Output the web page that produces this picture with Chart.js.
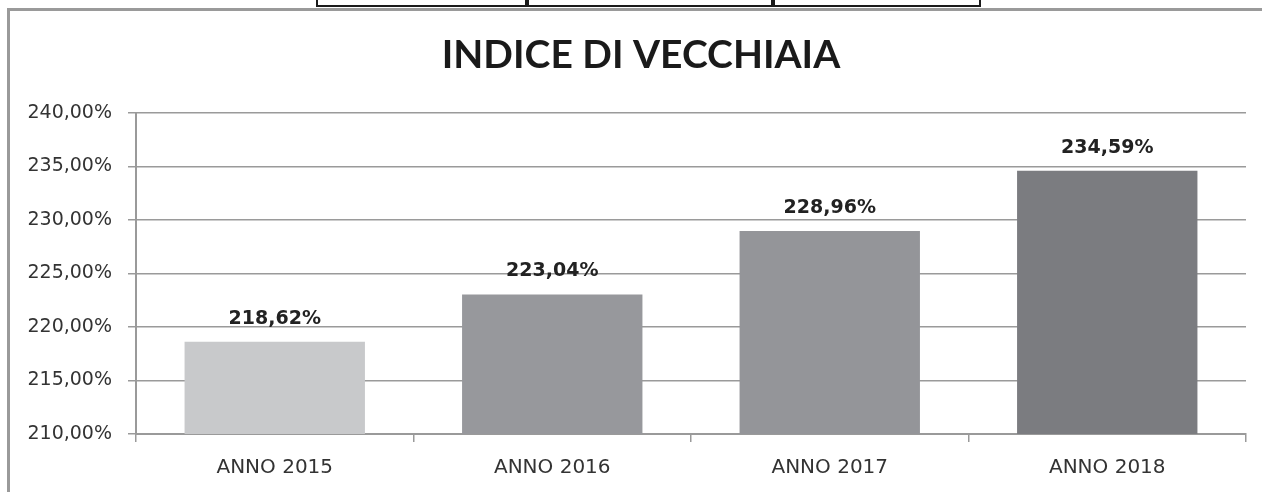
<!DOCTYPE html>
<html lang="it">
<head>
  <meta charset="UTF-8" />
  <title>Indice di vecchiaia</title>
  <script src="https://cdn.jsdelivr.net/npm/chart.js"></script>
  <style>
    html, body {
      margin: 0;
      padding: 0;
      background: #fff;
      overflow: hidden;
    }
    .wrap {
      position: relative;
      width: 1262px;
      height: 492px;
    }
    .frame {
      position: absolute;
      left: 7px;
      top: 8px;
      width: 1400px;
      height: 600px;
      border-left: 3px solid #9a9a9a;
      border-top: 3px solid #9a9a9a;
    }
    .tbl {
      position: absolute;
      top: -2px;
      height: 7px;
      border: 2px solid #1a1a1a;
      border-top: none;
    }
    canvas {
      position: absolute;
      left: 0;
      top: 0;
    }
  </style>
</head>
<body>
  <div class="wrap">
    <div class="frame"></div>
    <div class="tbl" style="left:316px; width:209px;"></div>
    <div class="tbl" style="left:525px; width:246px;"></div>
    <div class="tbl" style="left:771px; width:206px;"></div>
    <canvas id="chart" width="1262" height="492"></canvas>
  </div>

  <script>
    const categories = ['ANNO 2015', 'ANNO 2016', 'ANNO 2017', 'ANNO 2018'];
    const values = [218.62, 223.04, 228.96, 234.59];
    const barColors = ['#c8c9cb', '#97989c', '#949599', '#7b7c80'];
    const yMin = 210;
    const yMax = 240;
    const yStep = 5;

    const fmt = (v) => v.toFixed(2).replace('.', ',') + '%';

    // etichette dei valori sopra le barre
    const valueLabels = {
      id: 'valueLabels',
      afterDatasetsDraw(chart) {
        const ctx = chart.ctx;
        const meta = chart.getDatasetMeta(0);
        ctx.save();
        ctx.font = 'bold 19px "DejaVu Sans"';
        ctx.fillStyle = '#222';
        ctx.textAlign = 'center';
        ctx.textBaseline = 'middle';
        meta.data.forEach((bar, i) => {
          ctx.fillText(fmt(values[i]), bar.x, bar.y - 23);
        });
        ctx.restore();
      }
    };

    // le etichette dell'asse y non devono essere tagliate dal bordo del box
    const widenYLabels = {
      id: 'widenYLabels',
      afterLayout(chart) {
        chart.scales.y.left = 0;
      }
    };

    new Chart(document.getElementById('chart'), {
      type: 'bar',
      data: {
        labels: categories,
        datasets: [{
          data: values,
          backgroundColor: barColors,
          borderWidth: 0,
          barPercentage: 0.65,
          categoryPercentage: 1
        }]
      },
      options: {
        responsive: false,
        animation: false,
        layout: {
          padding: { left: 36, right: 16, top: 10, bottom: -2 }
        },
        plugins: {
          legend: { display: false },
          tooltip: { enabled: false },
          title: {
            display: true,
            text: 'INDICE DI VECCHIAIA',
            color: '#1a1a1a',
            font: { family: 'Lato', size: 39, weight: 'bold', lineHeight: 1.2 },
            padding: { top: 22, bottom: 34 }
          }
        },
        scales: {
          x: {
            grid: {
              offset: true,
              drawOnChartArea: false,
              tickLength: 8,
              color: '#9a9a9a',
              lineWidth: 1.5
            },
            border: { color: '#9a9a9a', width: 2 },
            ticks: {
              color: '#333',
              padding: 14,
              font: { family: 'DejaVu Sans', size: 20 }
            }
          },
          y: {
            min: yMin,
            max: yMax,
            afterFit(scale) { scale.width = 100; },
            grid: {
              tickLength: 8,
              color: '#9a9a9a',
              lineWidth: 1.5
            },
            border: { color: '#9a9a9a', width: 2 },
            ticks: {
              stepSize: yStep,
              color: '#333',
              padding: 16,
              font: { family: 'DejaVu Sans', size: 19 },
              callback: (v) => fmt(v)
            }
          }
        }
      },
      plugins: [valueLabels, widenYLabels]
    });
  </script>
</body>
</html>
